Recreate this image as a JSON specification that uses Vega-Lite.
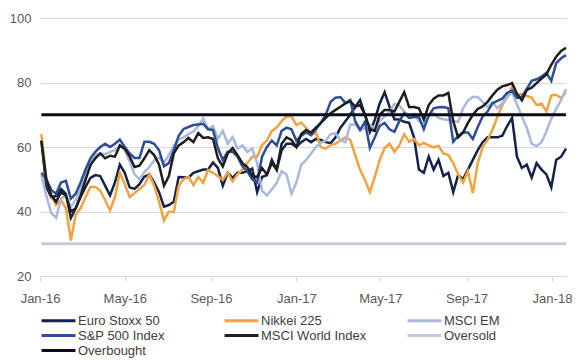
{
"$schema": "https://vega.github.io/schema/vega-lite/v6.json",
"width": 526, "height": 258,
"autosize": "none",
"padding": {"left": 40, "top": 18, "right": 16, "bottom": 84},
"background": "white",
"config": {"view": {"stroke": null}, "font": "Liberation Sans"},
"datasets": {
"eu": [
{"d":"2016-01-03","v":62},{"d":"2016-01-10","v":47.6},{"d":"2016-01-17","v":44.5},{"d":"2016-01-24","v":44.8},{"d":"2016-01-31","v":47},{"d":"2016-02-07","v":45.5},{"d":"2016-02-14","v":38},{"d":"2016-02-21","v":41},{"d":"2016-02-28","v":44.5},{"d":"2016-03-06","v":47.6},
{"d":"2016-03-13","v":50.4},{"d":"2016-03-20","v":51.3},{"d":"2016-03-27","v":51},{"d":"2016-04-03","v":48},{"d":"2016-04-10","v":45},{"d":"2016-04-17","v":49},{"d":"2016-04-24","v":54.5},{"d":"2016-05-01","v":52},{"d":"2016-05-08","v":47.5},{"d":"2016-05-15","v":47},
{"d":"2016-05-22","v":48.5},{"d":"2016-05-29","v":50.8},{"d":"2016-06-05","v":51.5},{"d":"2016-06-12","v":49},{"d":"2016-06-19","v":46},{"d":"2016-06-26","v":41.5},{"d":"2016-07-03","v":42},{"d":"2016-07-10","v":43},{"d":"2016-07-17","v":50.7},{"d":"2016-07-24","v":50.6},
{"d":"2016-07-31","v":50.5},{"d":"2016-08-07","v":52},{"d":"2016-08-14","v":52.5},{"d":"2016-08-21","v":53},{"d":"2016-08-28","v":53},{"d":"2016-09-04","v":55.2},{"d":"2016-09-11","v":53.5},{"d":"2016-09-18","v":48},{"d":"2016-09-25","v":52},{"d":"2016-10-02","v":50.4},
{"d":"2016-10-09","v":52},{"d":"2016-10-16","v":52},{"d":"2016-10-23","v":52.5},{"d":"2016-10-30","v":53.3},{"d":"2016-11-06","v":46},{"d":"2016-11-13","v":50.7},{"d":"2016-11-20","v":51.3},{"d":"2016-11-27","v":56},{"d":"2016-12-04","v":52.9},{"d":"2016-12-11","v":59},
{"d":"2016-12-18","v":61},{"d":"2016-12-25","v":61},{"d":"2017-01-01","v":60},{"d":"2017-01-08","v":61.5},{"d":"2017-01-15","v":62.5},{"d":"2017-01-22","v":61.5},{"d":"2017-01-29","v":62.5},{"d":"2017-02-05","v":62.2},{"d":"2017-02-12","v":61.5},{"d":"2017-02-19","v":61.2},
{"d":"2017-02-26","v":63},{"d":"2017-03-05","v":66},{"d":"2017-03-12","v":68},{"d":"2017-03-19","v":70},{"d":"2017-03-26","v":72.4},{"d":"2017-04-02","v":74.6},{"d":"2017-04-09","v":70},{"d":"2017-04-16","v":64.7},{"d":"2017-04-23","v":68.4},{"d":"2017-04-30","v":73.5},
{"d":"2017-05-07","v":77},{"d":"2017-05-14","v":72.5},{"d":"2017-05-21","v":68.6},{"d":"2017-05-28","v":68.5},{"d":"2017-06-04","v":67.8},{"d":"2017-06-11","v":67.5},{"d":"2017-06-18","v":63},{"d":"2017-06-25","v":53},{"d":"2017-07-02","v":52},{"d":"2017-07-09","v":57},
{"d":"2017-07-16","v":53},{"d":"2017-07-23","v":56},{"d":"2017-07-30","v":51},{"d":"2017-08-06","v":52},{"d":"2017-08-13","v":46},{"d":"2017-08-20","v":51.3},{"d":"2017-08-27","v":50},{"d":"2017-09-03","v":53},{"d":"2017-09-10","v":56},{"d":"2017-09-17","v":59},
{"d":"2017-09-24","v":61.5},{"d":"2017-10-01","v":63},{"d":"2017-10-08","v":63},{"d":"2017-10-15","v":63},{"d":"2017-10-22","v":63.5},{"d":"2017-10-29","v":66.5},{"d":"2017-11-05","v":69},{"d":"2017-11-12","v":57},{"d":"2017-11-19","v":53.5},{"d":"2017-11-26","v":54.5},
{"d":"2017-12-03","v":50.5},{"d":"2017-12-10","v":55},{"d":"2017-12-17","v":53},{"d":"2017-12-24","v":51.5},{"d":"2017-12-31","v":47.5},{"d":"2018-01-07","v":56},{"d":"2018-01-14","v":57},{"d":"2018-01-21","v":59.5}
],
"nk": [
{"d":"2016-01-03","v":64},{"d":"2016-01-10","v":50},{"d":"2016-01-17","v":45},{"d":"2016-01-24","v":42},{"d":"2016-01-31","v":43.6},{"d":"2016-02-07","v":41},{"d":"2016-02-14","v":31},{"d":"2016-02-21","v":39},{"d":"2016-02-28","v":41},{"d":"2016-03-06","v":44.5},
{"d":"2016-03-13","v":47.6},{"d":"2016-03-20","v":47.6},{"d":"2016-03-27","v":46.5},{"d":"2016-04-03","v":43.5},{"d":"2016-04-10","v":40.3},{"d":"2016-04-17","v":44.5},{"d":"2016-04-24","v":52},{"d":"2016-05-01","v":48.5},{"d":"2016-05-08","v":44.5},{"d":"2016-05-15","v":45.7},
{"d":"2016-05-22","v":47},{"d":"2016-05-29","v":48.2},{"d":"2016-06-05","v":51.5},{"d":"2016-06-12","v":48},{"d":"2016-06-19","v":43},{"d":"2016-06-26","v":37.2},{"d":"2016-07-03","v":40},{"d":"2016-07-10","v":39.8},{"d":"2016-07-17","v":48},{"d":"2016-07-24","v":50},
{"d":"2016-07-31","v":50.8},{"d":"2016-08-07","v":48.2},{"d":"2016-08-14","v":50.7},{"d":"2016-08-21","v":48.9},{"d":"2016-08-28","v":52.9},{"d":"2016-09-04","v":52},{"d":"2016-09-11","v":51},{"d":"2016-09-18","v":49.8},{"d":"2016-09-25","v":52},{"d":"2016-10-02","v":49.3},
{"d":"2016-10-09","v":51.5},{"d":"2016-10-16","v":53},{"d":"2016-10-23","v":55},{"d":"2016-10-30","v":57},{"d":"2016-11-06","v":57},{"d":"2016-11-13","v":60.6},{"d":"2016-11-20","v":62},{"d":"2016-11-27","v":65},{"d":"2016-12-04","v":66},{"d":"2016-12-11","v":68},
{"d":"2016-12-18","v":69.5},{"d":"2016-12-25","v":69.5},{"d":"2017-01-01","v":66.8},{"d":"2017-01-08","v":67.6},{"d":"2017-01-15","v":65.8},{"d":"2017-01-22","v":63.7},{"d":"2017-01-29","v":64.5},{"d":"2017-02-05","v":60},{"d":"2017-02-12","v":59.5},{"d":"2017-02-19","v":60.6},
{"d":"2017-02-26","v":61},{"d":"2017-03-05","v":62},{"d":"2017-03-12","v":63},{"d":"2017-03-19","v":62.2},{"d":"2017-03-26","v":57.5},{"d":"2017-04-02","v":52.9},{"d":"2017-04-09","v":49.8},{"d":"2017-04-16","v":46},{"d":"2017-04-23","v":50.7},{"d":"2017-04-30","v":56},
{"d":"2017-05-07","v":59.7},{"d":"2017-05-14","v":61},{"d":"2017-05-21","v":58.5},{"d":"2017-05-28","v":60.5},{"d":"2017-06-04","v":64},{"d":"2017-06-11","v":61.6},{"d":"2017-06-18","v":62.5},{"d":"2017-06-25","v":60.5},{"d":"2017-07-02","v":61.3},{"d":"2017-07-09","v":60.5},
{"d":"2017-07-16","v":59.9},{"d":"2017-07-23","v":60.4},{"d":"2017-07-30","v":58},{"d":"2017-08-06","v":57.5},{"d":"2017-08-13","v":55},{"d":"2017-08-20","v":51.5},{"d":"2017-08-27","v":49},{"d":"2017-09-03","v":52.5},{"d":"2017-09-10","v":45.7},{"d":"2017-09-17","v":55},
{"d":"2017-09-24","v":60},{"d":"2017-10-01","v":62.2},{"d":"2017-10-08","v":65.3},{"d":"2017-10-15","v":69.3},{"d":"2017-10-22","v":73},{"d":"2017-10-29","v":75.5},{"d":"2017-11-05","v":78.6},{"d":"2017-11-12","v":76},{"d":"2017-11-19","v":76.5},{"d":"2017-11-26","v":75.8},
{"d":"2017-12-03","v":75.3},{"d":"2017-12-10","v":73},{"d":"2017-12-17","v":73.5},{"d":"2017-12-24","v":71},{"d":"2017-12-31","v":76},{"d":"2018-01-07","v":76.2},{"d":"2018-01-14","v":75.2},{"d":"2018-01-21","v":77}
],
"em": [
{"d":"2016-01-03","v":51.3},{"d":"2016-01-10","v":45},{"d":"2016-01-17","v":39.5},{"d":"2016-01-24","v":38},{"d":"2016-01-31","v":44},{"d":"2016-02-07","v":45},{"d":"2016-02-14","v":41.5},{"d":"2016-02-21","v":43.5},{"d":"2016-02-28","v":47},{"d":"2016-03-06","v":51.3},
{"d":"2016-03-13","v":55.5},{"d":"2016-03-20","v":57.5},{"d":"2016-03-27","v":58},{"d":"2016-04-03","v":57.8},{"d":"2016-04-10","v":58.5},{"d":"2016-04-17","v":59},{"d":"2016-04-24","v":60.5},{"d":"2016-05-01","v":59},{"d":"2016-05-08","v":55.5},{"d":"2016-05-15","v":51.5},
{"d":"2016-05-22","v":50},{"d":"2016-05-29","v":52.2},{"d":"2016-06-05","v":53.8},{"d":"2016-06-12","v":55.8},{"d":"2016-06-19","v":56.7},{"d":"2016-06-26","v":55.2},{"d":"2016-07-03","v":57.5},{"d":"2016-07-10","v":60.3},{"d":"2016-07-17","v":62.4},{"d":"2016-07-24","v":63},
{"d":"2016-07-31","v":64},{"d":"2016-08-07","v":64.8},{"d":"2016-08-14","v":66.5},{"d":"2016-08-21","v":68.8},{"d":"2016-08-28","v":65.5},{"d":"2016-09-04","v":66.5},{"d":"2016-09-11","v":62.5},{"d":"2016-09-18","v":65},{"d":"2016-09-25","v":61},{"d":"2016-10-02","v":63},
{"d":"2016-10-09","v":59.5},{"d":"2016-10-16","v":60.5},{"d":"2016-10-23","v":58.5},{"d":"2016-10-30","v":59.5},{"d":"2016-11-06","v":55},{"d":"2016-11-13","v":46.5},{"d":"2016-11-20","v":45},{"d":"2016-11-27","v":46.8},{"d":"2016-12-04","v":48.9},{"d":"2016-12-11","v":52.5},
{"d":"2016-12-18","v":51.5},{"d":"2016-12-25","v":45.5},{"d":"2017-01-01","v":49},{"d":"2017-01-08","v":54.5},{"d":"2017-01-15","v":56},{"d":"2017-01-22","v":58},{"d":"2017-01-29","v":60},{"d":"2017-02-05","v":61.3},{"d":"2017-02-12","v":62},{"d":"2017-02-19","v":64},
{"d":"2017-02-26","v":64.2},{"d":"2017-03-05","v":62.2},{"d":"2017-03-12","v":61.5},{"d":"2017-03-19","v":67},{"d":"2017-03-26","v":67},{"d":"2017-04-02","v":65.3},{"d":"2017-04-09","v":65.8},{"d":"2017-04-16","v":67},{"d":"2017-04-23","v":65.5},{"d":"2017-04-30","v":68},
{"d":"2017-05-07","v":69.5},{"d":"2017-05-14","v":71},{"d":"2017-05-21","v":73.4},{"d":"2017-05-28","v":72.8},{"d":"2017-06-04","v":71},{"d":"2017-06-11","v":69.5},{"d":"2017-06-18","v":70.3},{"d":"2017-06-25","v":68},{"d":"2017-07-02","v":67},{"d":"2017-07-09","v":69.6},
{"d":"2017-07-16","v":70.5},{"d":"2017-07-23","v":69},{"d":"2017-07-30","v":68.6},{"d":"2017-08-06","v":68.4},{"d":"2017-08-13","v":68},{"d":"2017-08-20","v":67.8},{"d":"2017-08-27","v":72},{"d":"2017-09-03","v":74.4},{"d":"2017-09-10","v":75.5},{"d":"2017-09-17","v":75.5},
{"d":"2017-09-24","v":74},{"d":"2017-10-01","v":72.4},{"d":"2017-10-08","v":74},{"d":"2017-10-15","v":72},{"d":"2017-10-22","v":73.6},{"d":"2017-10-29","v":75.5},{"d":"2017-11-05","v":77},{"d":"2017-11-12","v":73.2},{"d":"2017-11-19","v":69.5},{"d":"2017-11-26","v":66},
{"d":"2017-12-03","v":61},{"d":"2017-12-10","v":60.3},{"d":"2017-12-17","v":61.5},{"d":"2017-12-24","v":64.8},{"d":"2017-12-31","v":68.8},{"d":"2018-01-07","v":71.8},{"d":"2018-01-14","v":74.5},{"d":"2018-01-21","v":78}
],
"sp": [
{"d":"2016-01-03","v":52},{"d":"2016-01-10","v":50},{"d":"2016-01-17","v":46.7},{"d":"2016-01-24","v":45.5},{"d":"2016-01-31","v":49},{"d":"2016-02-07","v":49.5},{"d":"2016-02-14","v":44},{"d":"2016-02-21","v":45.5},{"d":"2016-02-28","v":49},{"d":"2016-03-06","v":53},
{"d":"2016-03-13","v":56.5},{"d":"2016-03-20","v":58.5},{"d":"2016-03-27","v":60},{"d":"2016-04-03","v":61},{"d":"2016-04-10","v":60},{"d":"2016-04-17","v":61},{"d":"2016-04-24","v":62.3},{"d":"2016-05-01","v":60},{"d":"2016-05-08","v":58},{"d":"2016-05-15","v":56.6},
{"d":"2016-05-22","v":56.6},{"d":"2016-05-29","v":61.6},{"d":"2016-06-05","v":61.6},{"d":"2016-06-12","v":61},{"d":"2016-06-19","v":59},{"d":"2016-06-26","v":54},{"d":"2016-07-03","v":55},{"d":"2016-07-10","v":59},{"d":"2016-07-17","v":63.5},{"d":"2016-07-24","v":65.6},
{"d":"2016-07-31","v":66.2},{"d":"2016-08-07","v":66.8},{"d":"2016-08-14","v":67},{"d":"2016-08-21","v":67.2},{"d":"2016-08-28","v":65.5},{"d":"2016-09-04","v":65.3},{"d":"2016-09-11","v":59.7},{"d":"2016-09-18","v":56},{"d":"2016-09-25","v":58.5},{"d":"2016-10-02","v":58.5},
{"d":"2016-10-09","v":57},{"d":"2016-10-16","v":54},{"d":"2016-10-23","v":52.5},{"d":"2016-10-30","v":50},{"d":"2016-11-06","v":49},{"d":"2016-11-13","v":57},{"d":"2016-11-20","v":60},{"d":"2016-11-27","v":62},{"d":"2016-12-04","v":60.5},{"d":"2016-12-11","v":65},
{"d":"2016-12-18","v":66},{"d":"2016-12-25","v":65.5},{"d":"2017-01-01","v":62},{"d":"2017-01-08","v":63.5},{"d":"2017-01-15","v":64.5},{"d":"2017-01-22","v":63.7},{"d":"2017-01-29","v":65.5},{"d":"2017-02-05","v":67.5},{"d":"2017-02-12","v":70},{"d":"2017-02-19","v":74},
{"d":"2017-02-26","v":75.3},{"d":"2017-03-05","v":75.5},{"d":"2017-03-12","v":73.6},{"d":"2017-03-19","v":74.6},{"d":"2017-03-26","v":68},{"d":"2017-04-02","v":65.3},{"d":"2017-04-09","v":67.8},{"d":"2017-04-16","v":59.7},{"d":"2017-04-23","v":63},{"d":"2017-04-30","v":66.5},
{"d":"2017-05-07","v":67.5},{"d":"2017-05-14","v":65.5},{"d":"2017-05-21","v":64.7},{"d":"2017-05-28","v":68},{"d":"2017-06-04","v":70.5},{"d":"2017-06-11","v":69},{"d":"2017-06-18","v":69.3},{"d":"2017-06-25","v":69.3},{"d":"2017-07-02","v":65.5},{"d":"2017-07-09","v":69.8},
{"d":"2017-07-16","v":72},{"d":"2017-07-23","v":72.3},{"d":"2017-07-30","v":72.4},{"d":"2017-08-06","v":72},{"d":"2017-08-13","v":61.6},{"d":"2017-08-20","v":63.5},{"d":"2017-08-27","v":64.5},{"d":"2017-09-03","v":64.5},{"d":"2017-09-10","v":62.5},{"d":"2017-09-17","v":66.2},
{"d":"2017-09-24","v":69.5},{"d":"2017-10-01","v":71},{"d":"2017-10-08","v":73.5},{"d":"2017-10-15","v":74.3},{"d":"2017-10-22","v":75},{"d":"2017-10-29","v":76.8},{"d":"2017-11-05","v":77.5},{"d":"2017-11-12","v":75.2},{"d":"2017-11-19","v":75.5},{"d":"2017-11-26","v":78},
{"d":"2017-12-03","v":80.5},{"d":"2017-12-10","v":81},{"d":"2017-12-17","v":81.8},{"d":"2017-12-24","v":83},{"d":"2017-12-31","v":80.5},{"d":"2018-01-07","v":86},{"d":"2018-01-14","v":87.5},{"d":"2018-01-21","v":88.5}
],
"mw": [
{"d":"2016-01-03","v":62},{"d":"2016-01-10","v":50},{"d":"2016-01-17","v":45},{"d":"2016-01-24","v":43},{"d":"2016-01-31","v":46},{"d":"2016-02-07","v":45},{"d":"2016-02-14","v":40},{"d":"2016-02-21","v":41},{"d":"2016-02-28","v":45},{"d":"2016-03-06","v":49.8},
{"d":"2016-03-13","v":54.4},{"d":"2016-03-20","v":56.5},{"d":"2016-03-27","v":58},{"d":"2016-04-03","v":56.5},{"d":"2016-04-10","v":57.3},{"d":"2016-04-17","v":57},{"d":"2016-04-24","v":60.5},{"d":"2016-05-01","v":59.5},{"d":"2016-05-08","v":57},{"d":"2016-05-15","v":53.8},
{"d":"2016-05-22","v":54.2},{"d":"2016-05-29","v":56.5},{"d":"2016-06-05","v":59},{"d":"2016-06-12","v":57.5},{"d":"2016-06-19","v":54.5},{"d":"2016-06-26","v":48},{"d":"2016-07-03","v":51},{"d":"2016-07-10","v":58},{"d":"2016-07-17","v":60.5},{"d":"2016-07-24","v":61.5},
{"d":"2016-07-31","v":62.8},{"d":"2016-08-07","v":61.5},{"d":"2016-08-14","v":64.3},{"d":"2016-08-21","v":62.8},{"d":"2016-08-28","v":63},{"d":"2016-09-04","v":62.5},{"d":"2016-09-11","v":56.5},{"d":"2016-09-18","v":54},{"d":"2016-09-25","v":58},{"d":"2016-10-02","v":59.7},
{"d":"2016-10-09","v":57.5},{"d":"2016-10-16","v":55},{"d":"2016-10-23","v":53.8},{"d":"2016-10-30","v":51},{"d":"2016-11-06","v":50.7},{"d":"2016-11-13","v":53.5},{"d":"2016-11-20","v":51.5},{"d":"2016-11-27","v":55},{"d":"2016-12-04","v":53},{"d":"2016-12-11","v":61},
{"d":"2016-12-18","v":63},{"d":"2016-12-25","v":62.2},{"d":"2017-01-01","v":60},{"d":"2017-01-08","v":64},{"d":"2017-01-15","v":65.3},{"d":"2017-01-22","v":64.5},{"d":"2017-01-29","v":66},{"d":"2017-02-05","v":67.5},{"d":"2017-02-12","v":69},{"d":"2017-02-19","v":70.5},
{"d":"2017-02-26","v":71.5},{"d":"2017-03-05","v":72.5},{"d":"2017-03-12","v":73.5},{"d":"2017-03-19","v":74.2},{"d":"2017-03-26","v":72.5},{"d":"2017-04-02","v":73},{"d":"2017-04-09","v":70},{"d":"2017-04-16","v":65.5},{"d":"2017-04-23","v":65},{"d":"2017-04-30","v":70},
{"d":"2017-05-07","v":71.5},{"d":"2017-05-14","v":71.5},{"d":"2017-05-21","v":71},{"d":"2017-05-28","v":74},{"d":"2017-06-04","v":77},{"d":"2017-06-11","v":72.4},{"d":"2017-06-18","v":72.4},{"d":"2017-06-25","v":72},{"d":"2017-07-02","v":68.5},{"d":"2017-07-09","v":73},
{"d":"2017-07-16","v":75},{"d":"2017-07-23","v":76},{"d":"2017-07-30","v":76},{"d":"2017-08-06","v":76.8},{"d":"2017-08-13","v":68},{"d":"2017-08-20","v":63},{"d":"2017-08-27","v":64.5},{"d":"2017-09-03","v":67.5},{"d":"2017-09-10","v":70},{"d":"2017-09-17","v":71.8},
{"d":"2017-09-24","v":72.6},{"d":"2017-10-01","v":74},{"d":"2017-10-08","v":76},{"d":"2017-10-15","v":77.8},{"d":"2017-10-22","v":78.8},{"d":"2017-10-29","v":79.2},{"d":"2017-11-05","v":79.8},{"d":"2017-11-12","v":76.5},{"d":"2017-11-19","v":74.5},{"d":"2017-11-26","v":77.7},
{"d":"2017-12-03","v":78.4},{"d":"2017-12-10","v":79.8},{"d":"2017-12-17","v":81.2},{"d":"2017-12-24","v":82.5},{"d":"2017-12-31","v":85.5},{"d":"2018-01-07","v":88},{"d":"2018-01-14","v":89.8},{"d":"2018-01-21","v":90.8}
],
"os": [{"d":"2016-01-03","v":30},{"d":"2018-01-21","v":30}],
"ob": [{"d":"2016-01-03","v":70},{"d":"2018-01-21","v":70}]
},
"encoding": {
  "x": {"field": "d", "type": "temporal",
    "scale": {"type": "utc", "domain": [{"year": 2016, "month": 1, "date": 1, "utc": true}, {"year": 2018, "month": 1, "date": 21, "utc": true}]},
    "axis": {"title": null, "format": "%b-%y",
      "values": [{"year":2016,"month":1,"date":1,"utc":true},{"year":2016,"month":5,"date":1,"utc":true},{"year":2016,"month":9,"date":1,"utc":true},{"year":2017,"month":1,"date":1,"utc":true},{"year":2017,"month":5,"date":1,"utc":true},{"year":2017,"month":9,"date":1,"utc":true},{"year":2018,"month":1,"date":1,"utc":true}],
      "grid": false, "domainColor": "#d9d9d9", "tickColor": "#d9d9d9", "tickSize": 5,
      "labelColor": "#595959", "labelFontSize": 13, "labelPadding": 11, "labelFlush": false, "labelOverlap": false}},
  "y": {"field": "v", "type": "quantitative",
    "scale": {"domain": [20, 100], "nice": false, "zero": false},
    "axis": {"title": null, "values": [20, 40, 60, 80, 100], "domain": false, "ticks": false,
      "grid": true, "gridColor": "#d9d9d9", "labelColor": "#595959", "labelFontSize": 13, "labelPadding": 9}}
},
"layer": [
  {"data": {"name": "eu"}, "mark": {"type": "line", "strokeWidth": 2.5},
   "encoding": {"color": {"datum": "Euro Stoxx 50",
     "scale": {"domain": ["Euro Stoxx 50", "Nikkei 225", "MSCI EM", "S&P 500 Index", "MSCI World Index", "Oversold", "Overbought"],
               "range": ["#13224a", "#f2a23e", "#a8b9db", "#2c4e9a", "#1e1e1e", "#c9c9dd", "#0b0b1a"]},
     "legend": {"title": null, "orient": "none", "legendX": 12, "legendY": 296, "direction": "horizontal", "columns": 3,
       "gridAlign": "all", "columnPadding": 34, "rowPadding": 1, "symbolType": "M-5,0H5", "symbolStrokeWidth": 3,
       "symbolSize": 46, "labelFontSize": 13, "labelColor": "#404040", "labelOffset": 13, "labelLimit": 200}}}},
  {"data": {"name": "nk"}, "mark": {"type": "line", "strokeWidth": 2.5}, "encoding": {"color": {"datum": "Nikkei 225"}}},
  {"data": {"name": "em"}, "mark": {"type": "line", "strokeWidth": 2.5}, "encoding": {"color": {"datum": "MSCI EM"}}},
  {"data": {"name": "sp"}, "mark": {"type": "line", "strokeWidth": 2.5}, "encoding": {"color": {"datum": "S&P 500 Index"}}},
  {"data": {"name": "mw"}, "mark": {"type": "line", "strokeWidth": 2.5}, "encoding": {"color": {"datum": "MSCI World Index"}}},
  {"data": {"name": "os"}, "mark": {"type": "line", "strokeWidth": 3}, "encoding": {"color": {"datum": "Oversold"}}},
  {"data": {"name": "ob"}, "mark": {"type": "line", "strokeWidth": 3}, "encoding": {"color": {"datum": "Overbought"}}}
]
}
